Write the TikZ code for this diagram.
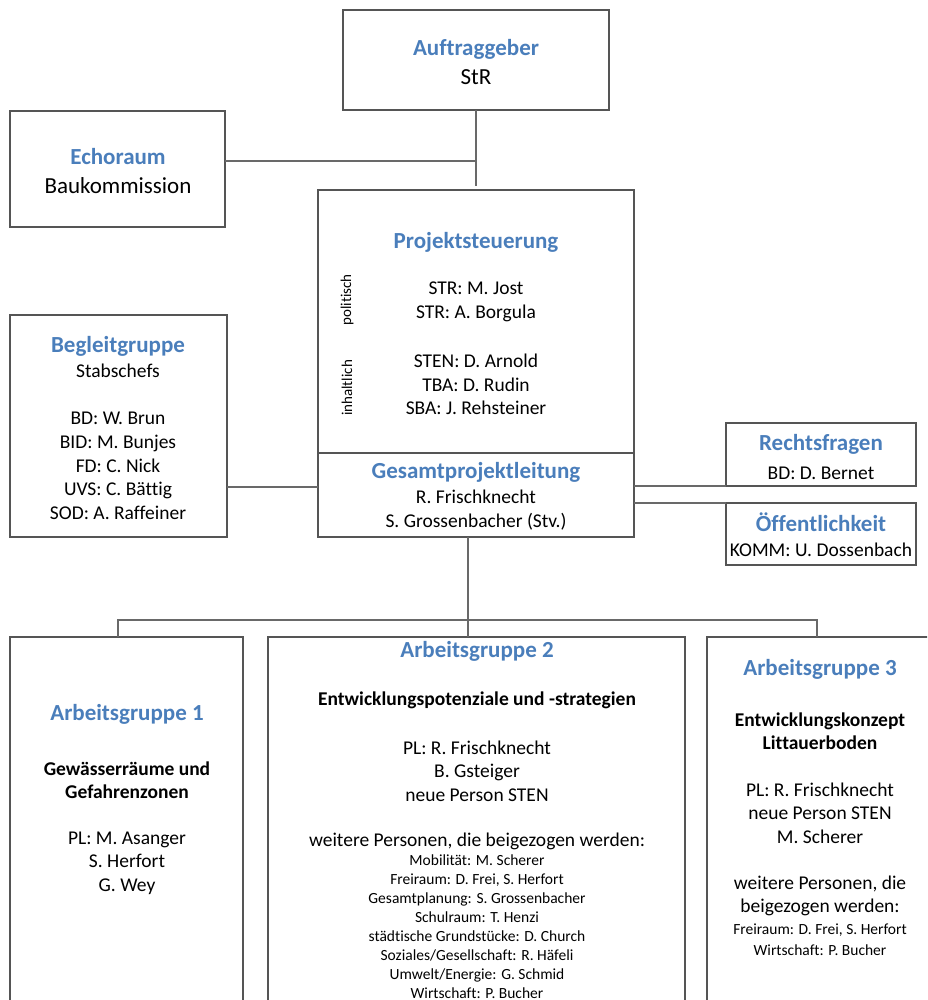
\documentclass[tikz,border=0pt]{standalone}
\usepackage{fontspec}
\setmainfont{Carlito}[Ligatures=NoCommon]
\definecolor{titleblue}{RGB}{74,126,187}
\definecolor{boxline}{RGB}{85,85,85}
\definecolor{conline}{RGB}{105,105,105}
\tikzset{
  orgbox/.style={draw=boxline, line width=1.2pt, rectangle, inner sep=0pt, outer sep=0pt},
  conn/.style={draw=conline, line width=1.1pt},
  ttl/.style={font=\fontsize{23}{28}\selectfont\bfseries, text=titleblue, inner sep=0pt, align=center},
  big/.style={font=\fontsize{23}{28.5}\selectfont, inner sep=0pt, align=center},
  txt/.style={font=\fontsize{19.5}{23.6}\selectfont, inner sep=0pt, align=center},
  bld/.style={font=\fontsize{19.5}{23.5}\selectfont\bfseries, inner sep=0pt, align=center},
  sml/.style={font=\fontsize{15.5}{18.9}\selectfont, inner sep=0pt, align=center},
  rot/.style={font=\fontsize{15}{18}\selectfont, rotate=90, inner sep=0pt}
}
\begin{document}
\begin{tikzpicture}[x=1pt,y=-1pt]
\useasboundingbox (0,0) rectangle (927,1000);
\clip (0,0) rectangle (927,1000);
\fill[white] (0,0) rectangle (927,1000);

% boxes
\node[orgbox, minimum width=266pt, minimum height=100pt] (auf) at (476,60) {};
\node[orgbox, minimum width=215pt, minimum height=116pt] (echo) at (117.5,169) {};
\node[orgbox, minimum width=316pt, minimum height=263pt] (ps) at (476,321.5) {};
\node[orgbox, minimum width=316pt, minimum height=84pt] (gpl) at (476,495) {};
\node[orgbox, minimum width=217pt, minimum height=222pt] (beg) at (118.5,426) {};
\node[orgbox, minimum width=190pt, minimum height=63pt] (recht) at (821,454.5) {};
\node[orgbox, minimum width=190pt, minimum height=62pt] (oeff) at (821,534) {};
\node[orgbox, minimum width=233pt, minimum height=400pt] (ag1) at (126.5,837) {};
\node[orgbox, minimum width=417pt, minimum height=400pt] (ag2) at (476.5,837) {};
\node[orgbox, minimum width=226pt, minimum height=400pt] (ag3) at (820,837) {};

% connectors
\coordinate (j1) at (476,186);
\coordinate (j2) at (476,161);
\draw[conn] (auf.south) -- (j1);
\draw[conn] (echo.east |- j2) -- (j2);
\coordinate (b1) at (318,487);
\draw[conn] (beg.east |- b1) -- (gpl.west |- b1);
\draw[conn] (gpl.east |- recht.south west) -- (recht.south west);
\draw[conn] (gpl.east |- oeff.north west) -- (oeff.north west);
\coordinate (bus) at (468,620);
\coordinate (d1) at (118,620);
\coordinate (d3) at (817,620);
\draw[conn] (gpl.south -| bus) -- (bus);
\draw[conn] (d1 |- ag1.north) -- (d1) -- (d3) -- (d3 |- ag3.north);
\draw[conn] (bus) -- (bus |- ag2.north);

\begin{scope}[yshift=-2pt]
% Auftraggeber
\node[ttl] (tauf) at (476,47) {Auftraggeber};
\node[big] (sauf) at (476,75) {StR};
% Echoraum
\node[ttl] (techo) at (118,155) {Echoraum};
\node[big] (secho) at (118,184) {Baukommission};
% Projektsteuerung
\node[ttl] (tps) at (476,240) {Projektsteuerung};
\node[txt] (ps1) at (476,300) {STR: M. Jost\\STR: A. Borgula};
\node[txt] (ps2) at (476,382.5) {STEN: D. Arnold\\TBA: D. Rudin\\SBA: J. Rehsteiner};
\node[rot] (pol) at (347,298) {politisch};
\node[rot] (inh) at (347,386) {inhaltlich};
% Gesamtprojektleitung
\node[ttl] (tgpl) at (476,470) {Gesamtprojektleitung};
\node[txt] (sgpl) at (476,508) {R. Frischknecht\\S. Grossenbacher (Stv.)};
% Begleitgruppe
\node[ttl] (tbeg) at (118,344) {Begleitgruppe};
\node[txt] (sbeg) at (118,369) {Stabschefs};
\node[txt] (lbeg) at (118,464) {BD: W. Brun\\BID: M. Bunjes\\FD: C. Nick\\UVS: C. Bättig\\SOD: A. Raffeiner};
% Rechtsfragen / Oeffentlichkeit
\node[ttl] (trecht) at (821,442) {Rechtsfragen};
\node[txt] (srecht) at (821,471) {BD: D. Bernet};
\node[ttl] (toeff) at (821,520) {Öffentlichkeit};
\node[txt] (soeff) at (821,548) {KOMM: U. Dossenbach};
% Arbeitsgruppe 1
\node[ttl] (tag1) at (127,712) {Arbeitsgruppe 1};
\node[bld] (bag1) at (127,778) {Gewässerräume und\\Gefahrenzonen};
\node[txt] (pag1) at (127,861) {PL: M. Asanger\\S. Herfort\\G. Wey};
% Arbeitsgruppe 2
\node[ttl] (tag2) at (477,649) {Arbeitsgruppe 2};
\node[bld] (bag2) at (477,698) {Entwicklungspotenziale und -strategien};
\node[txt] (pag2) at (477,769) {PL: R. Frischknecht\\B. Gsteiger\\neue Person STEN};
\node[txt] (wag2) at (477,839) {weitere Personen, die beigezogen werden:};
\node[sml] (sag2) at (477,916.5) {Mobilität: M. Scherer\\Freiraum: D. Frei, S. Herfort\\Gesamtplanung: S. Grossenbacher\\Schulraum: T. Henzi\\städtische Grundstücke: D. Church\\Soziales/Gesellschaft: R. Häfeli\\Umwelt/Energie: G. Schmid};
\node[sml] (xag2) at (477,991.5) {Wirtschaft: P. Bucher};
% Arbeitsgruppe 3
\node[ttl] (tag3) at (820,667) {Arbeitsgruppe 3};
\node[bld] (bag3) at (820,729) {Entwicklungskonzept\\Littauerboden};
\node[txt] (pag3) at (820,811) {PL: R. Frischknecht\\neue Person STEN\\M. Scherer};
\node[txt] (wag3) at (820,894) {weitere Personen, die\\beigezogen werden:};
\node[font=\fontsize{15.5}{21.5}\selectfont, inner sep=0pt, align=center] (sag3) at (820,937.5) {Freiraum: D. Frei, S. Herfort\\Wirtschaft: P. Bucher};
\end{scope}
\end{tikzpicture}
\end{document}
